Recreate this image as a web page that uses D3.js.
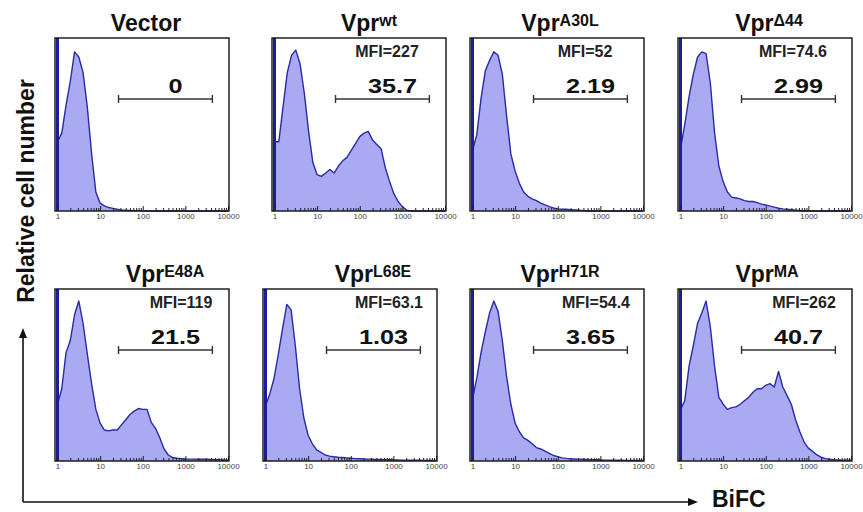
<!DOCTYPE html>
<html>
<head>
<meta charset="utf-8">
<title>BiFC histograms</title>
<style>
body { margin: 0; background: #fff; }
svg text { font-family: "Liberation Sans", Arial, sans-serif; }
.title { font-size: 23px; font-weight: bold; fill: #111; }
.mfi { font-size: 16px; font-weight: bold; fill: #222; }
.pct { font-size: 21px; font-weight: bold; fill: #111; }
.axis text { font-size: 8px; fill: #444; font-family: "Liberation Sans", Arial, sans-serif; }
.axis line { stroke: #222; }
.big { font-size: 23px; font-weight: bold; fill: #111; }
</style>
<script src="https://d3js.org/d3.v7.min.js"></script>
</head>
<body>
<div id="chart"></div>
<script>
// log10 of the BiFC channel, shared by all histograms
var decades = [0.0, 0.1, 0.2, 0.3, 0.4, 0.5, 0.6, 0.7, 0.8, 0.9,
               1.0, 1.1, 1.2, 1.3, 1.4, 1.5, 1.6, 1.7, 1.8, 1.9,
               2.0, 2.1, 2.2, 2.3, 2.4, 2.5, 2.6, 2.7, 2.8, 2.9,
               3.0, 3.1, 3.2, 3.3, 3.4, 3.5, 3.6, 3.7, 3.8, 3.9, 4.0];

// relative cell number (% of panel height)
var histVector = [40, 45, 61, 75, 92, 89, 80, 60, 33, 11,
                  4.5, 3, 2, 1.5, 1, 0.6, 0.4, 0.3, 0.2, 0.2,
                  0.1, 0, 0, 0, 0, 0, 0, 0, 0, 0,
                  0, 0, 0, 0, 0, 0, 0, 0, 0, 0, 0];
var histWT = [40, 40, 60, 80, 90, 93, 85, 68, 46, 28,
              21, 20, 22, 24, 22, 26, 29, 31, 35, 39,
              43, 45, 46, 41, 38.5, 36, 25, 17, 10, 5.5,
              2.5, 0.5, 0, 0, 0, 0, 0, 0, 0, 0, 0];
var histA30L = [35, 44, 65, 81, 87, 92, 90, 79, 55, 33,
                23, 16, 11, 8.5, 7, 6, 4.5, 3.5, 2.5, 1.8,
                1.2, 1, 1, 0.8, 0.6, 0.4, 0.2, 0, 0, 0,
                0, 0, 0, 0, 0, 0, 0, 0, 0, 0, 0];
var histD44 = [36, 50, 66, 79, 89, 92, 91, 74, 45, 26,
               17, 11, 8, 7.5, 7, 6, 5.5, 5.5, 4.8, 4,
               3.5, 2.8, 2.2, 1.6, 1.2, 1, 0.8, 0.5, 0.3, 0,
               0, 0, 0, 0, 0, 0, 0, 0, 0, 0, 0];
var histE48A = [33, 42, 63, 70, 85, 93, 80, 62, 45, 30,
                22, 18, 17.5, 18, 18, 21, 24, 27, 29, 30.5,
                30, 30, 22.5, 19, 13.5, 7, 3.5, 2, 1.6, 1.4,
                1.2, 1.1, 1.1, 1, 1, 1, 0.9, 0.8, 0.7, 0.6, 0.5];
var histL68E = [32, 39, 48, 62, 77, 91, 88, 67, 42, 25,
                15, 10, 6.5, 5, 3.5, 2.8, 2.5, 2.2, 2, 1.8,
                1.6, 1.4, 1.3, 1.2, 1.1, 1, 0.9, 0.85, 0.8, 0.7,
                0.6, 0.55, 0.5, 0.5, 0.45, 0.4, 0.4, 0.35, 0.3, 0.3, 0.3];
var histH71R = [36, 48, 63, 75, 86, 93, 87, 70, 49, 33,
                22, 17, 13.5, 12, 10, 7.8, 7, 5.8, 4.5, 3.2,
                2.5, 1.8, 1.5, 1.3, 1.2, 1.1, 1, 0.9, 0.8, 0.7,
                0.6, 0.5, 0.5, 0.45, 0.4, 0.4, 0.35, 0.3, 0.3, 0.3, 0.3];
var histMA = [30, 35, 55, 67, 80, 86, 93, 78, 55, 37,
              33, 30, 31, 31.5, 33, 35, 37, 40, 42, 42,
              44, 45, 43, 52, 43, 38, 33, 24, 17, 11,
              7.5, 5.6, 3.5, 2.2, 1.4, 1, 0.7, 0.6, 0.5, 0.5, 0.5];

var titles = ["Vector", "Vpr", "Vpr", "Vpr", "Vpr", "Vpr", "Vpr", "Vpr"];
var superscripts = ["", "wt", "A30L", "\u039444", "E48A", "L68E", "H71R", "MA"];
var mfiLabels = ["", "MFI=227", "MFI=52", "MFI=74.6", "MFI=119", "MFI=63.1", "MFI=54.4", "MFI=262"];
var positives = ["0", "35.7", "2.19", "2.99", "21.5", "1.03", "3.65", "40.7"];
var gateRange = [27, 4300];
var tickLabels = [1, 10, 100, 1000, 10000];

var histograms = [histVector, histWT, histA30L, histD44, histE48A, histL68E, histH71R, histMA];

// layout
var panelLeft = [55, 272, 470, 678, 55, 263, 470, 678];
var rowTop = [38, 289], rowBottom = [211, 461];
var panelWidth = 174;
var titleShift = [4, 10, 3, 4, 23, 23, 3, 2];

var svg = d3.select("#chart").append("svg")
  .attr("width", 863)
  .attr("height", 512);

svg.append("rect").attr("width", 863).attr("height", 512).attr("fill", "#fff");

histograms.forEach(function(hist, i) {
  var row = i < 4 ? 0 : 1;
  var x0 = panelLeft[i], yt = rowTop[row], yb = rowBottom[row];

  var x = d3.scaleLog().domain([1, 10000]).range([x0 + 2.5, x0 + 173]);
  var y = d3.scaleLinear().domain([0, 100]).range([yb, yt]);

  var pts = hist.map(function(v, k) { return [Math.pow(10, decades[k]), v]; });

  var g = svg.append("g");

  g.append("path")
    .datum(pts)
    .attr("fill", "#aaaaf2")
    .attr("d", d3.area()
      .x(function(d) { return x(d[0]); })
      .y0(yb)
      .y1(function(d) { return y(d[1]); }));

  g.append("path")
    .datum(pts)
    .attr("fill", "none")
    .attr("stroke", "#2a2aa6")
    .attr("stroke-width", 1.4)
    .attr("stroke-linejoin", "round")
    .attr("d", d3.line()
      .x(function(d) { return x(d[0]); })
      .y(function(d) { return y(d[1]); }));

  // off-scale events piled up at channel 1
  g.append("line")
    .attr("x1", x(1)).attr("x2", x(1))
    .attr("y1", yb).attr("y2", yt)
    .attr("stroke", "#1c1c9c")
    .attr("stroke-width", 3);

  g.append("rect")
    .attr("x", x0).attr("y", yt)
    .attr("width", panelWidth).attr("height", yb - yt)
    .attr("fill", "none")
    .attr("stroke", "#111")
    .attr("stroke-width", 1.4);

  var axis = g.append("g")
    .attr("class", "axis")
    .attr("transform", "translate(0," + yb + ")")
    .call(d3.axisBottom(x)
      .tickValues(x.ticks())
      .tickSizeInner(-3)
      .tickSizeOuter(0)
      .tickPadding(2.5)
      .tickFormat(function(d) { return tickLabels.indexOf(d) >= 0 ? d : ""; }));
  axis.select(".domain").remove();
  axis.selectAll(".tick")
    .filter(function(d) { return tickLabels.indexOf(d) >= 0; })
    .select("line").attr("y2", -5);

  // gate
  var gy = yt + 61;
  var gx1 = x(gateRange[0]), gx2 = x(gateRange[1]);
  g.append("line")
    .attr("x1", gx1).attr("x2", gx2).attr("y1", gy).attr("y2", gy)
    .attr("stroke", "#333").attr("stroke-width", 1.4);
  [gx1, gx2].forEach(function(gx) {
    g.append("line")
      .attr("x1", gx).attr("x2", gx).attr("y1", gy - 4).attr("y2", gy + 4)
      .attr("stroke", "#333").attr("stroke-width", 1.4);
  });

  g.append("text")
    .attr("class", "pct")
    .attr("text-anchor", "middle")
    .attr("transform", "translate(" + ((gx1 + gx2) / 2 + 10) + "," + (yt + 55) + ") scale(1.2,1)")
    .text(positives[i]);

  if (mfiLabels[i]) {
    g.append("text")
      .attr("class", "mfi")
      .attr("text-anchor", "middle")
      .attr("x", x0 + (row === 0 ? 115 : 126))
      .attr("y", yt + 19)
      .text(mfiLabels[i]);
  }

  var t = g.append("text")
    .attr("class", "title")
    .attr("text-anchor", "middle")
    .attr("x", x0 + panelWidth / 2 + titleShift[i])
    .attr("y", yt - 7);
  t.append("tspan").text(titles[i]);
  if (superscripts[i]) {
    t.append("tspan").attr("font-size", "16px").attr("dy", -5).text(superscripts[i]);
  }
});

// axis arrows
svg.append("path")
  .attr("d", "M23,502 L23,336 M23,502 L688,502")
  .attr("fill", "none").attr("stroke", "#111").attr("stroke-width", 1.6);
svg.append("path")
  .attr("d", "M23,328 L19,338 L27,338 Z M698,502 L688,498 L688,506 Z")
  .attr("fill", "#111");

svg.append("text")
  .attr("class", "big")
  .attr("text-anchor", "middle")
  .attr("transform", "translate(34,191) rotate(-90)")
  .text("Relative cell number");

svg.append("text")
  .attr("class", "big")
  .attr("font-size", "22px")
  .attr("x", 712).attr("y", 507)
  .text("BiFC");
</script>
</body>
</html>
